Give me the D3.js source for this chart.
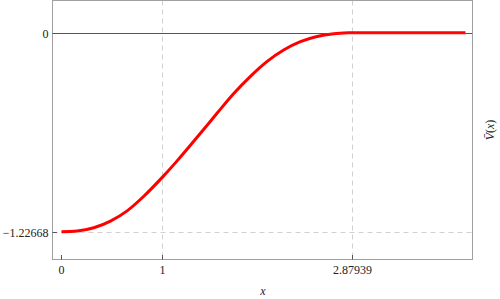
<!DOCTYPE html>
<html><head><meta charset="utf-8">
<script src="https://cdn.jsdelivr.net/npm/d3@7"></script>
<style>body{margin:0;background:#fff}svg{display:block}</style>
</head><body>
<script>
const xs = [0, 0.155, 0.32, 0.485, 0.65, 0.815, 1.0, 1.145, 1.376, 1.54, 1.706, 1.871, 2.037, 2.2, 2.366, 2.53, 2.696, 2.86, 2.87939, 3.5, 4.0];
const vs = [-1.22668, -1.222, -1.202, -1.161, -1.098, -1.008, -0.890, -0.790, -0.620, -0.497, -0.375, -0.269, -0.177, -0.107, -0.056, -0.024, -0.007, -0.0005, 0, 0, 0];
const xTicks = [0, 1, 2.87939];
const xTickLabels = ["0", "1", "2.87939"];
const yTicks = [0, -1.22668];
const yTickLabels = ["0", "\u22121.22668"];

const FONT = "'Liberation Serif', 'DejaVu Serif', serif";
const W = 500, H = 299;
const svg = d3.select("body").append("svg").attr("width", W).attr("height", H).attr("font-family", FONT);
const x = d3.scaleLinear().domain([-0.089, 4.07]).range([52.5, 472.5]);
const y = d3.scaleLinear().domain([-1.3976, 0.198]).range([259.5, 0.5]);

// grid dashed
const grid = svg.append("g").attr("stroke", "#d0d0d0").attr("stroke-width", 1).attr("stroke-dasharray", "5,4");
[1, 2.87939].forEach(v => grid.append("line").attr("x1", Math.round(x(v)) + 0.5).attr("x2", Math.round(x(v)) + 0.5).attr("y1", 0.5).attr("y2", 259.5));
grid.append("line").attr("x1", 52.5).attr("x2", 472.5).attr("y1", Math.round(y(-1.22668)) + 0.5).attr("y2", Math.round(y(-1.22668)) + 0.5);

// curve
const line = d3.line().x((d, i) => x(xs[i])).y(d => y(d)).curve(d3.curveMonotoneX);
svg.append("path").datum(vs).attr("d", line).attr("fill", "none").attr("stroke", "#ff0000").attr("stroke-width", 3);

// zero axis line on top
svg.append("line").attr("x1", 52.5).attr("x2", 472.5).attr("y1", Math.round(y(0)) + 0.5).attr("y2", Math.round(y(0)) + 0.5).attr("stroke", "#555").attr("stroke-width", 1);

// frame
svg.append("rect").attr("x", 52.5).attr("y", 0.5).attr("width", 420).attr("height", 259).attr("fill", "none").attr("stroke", "#a0a0a0").attr("stroke-width", 1);

// x ticks
const xg = svg.append("g");
xTicks.forEach((t, i) => {
  const px = Math.round(x(t)) + 0.5;
  xg.append("line").attr("x1", px).attr("x2", px).attr("y1", 259.5).attr("y2", 255).attr("stroke", "#555");
  xg.append("text").attr("x", px).attr("y", 274).attr("text-anchor", "middle").attr("font-size", 12).attr("font-family", FONT).attr("fill", "#222").text(xTickLabels[i]);
});
// y ticks
const yg = svg.append("g");
yTicks.forEach((t, i) => {
  const py = Math.round(y(t)) + 0.5;
  yg.append("line").attr("x1", 52.5).attr("x2", 57).attr("y1", py).attr("y2", py).attr("stroke", "#555");
  yg.append("text").attr("x", 48.5).attr("y", py + 4).attr("text-anchor", "end").attr("font-size", 12).attr("font-family", FONT).attr("fill", "#222").text(yTickLabels[i]);
});

// axis labels
svg.append("text").attr("x", 263).attr("y", 295).attr("text-anchor", "middle").attr("font-size", 12).attr("font-family", FONT).attr("font-style", "italic").attr("fill", "#222").text("x");
const yl = svg.append("text").attr("transform", "translate(494,130) rotate(-90)").attr("text-anchor", "middle").attr("font-size", 12).attr("font-family", FONT).attr("fill", "#222");
yl.append("tspan").attr("font-style", "italic").text("V\u0304");
yl.append("tspan").text("(");
yl.append("tspan").attr("font-style", "italic").text("x");
yl.append("tspan").text(")");
</script>
</body></html>
